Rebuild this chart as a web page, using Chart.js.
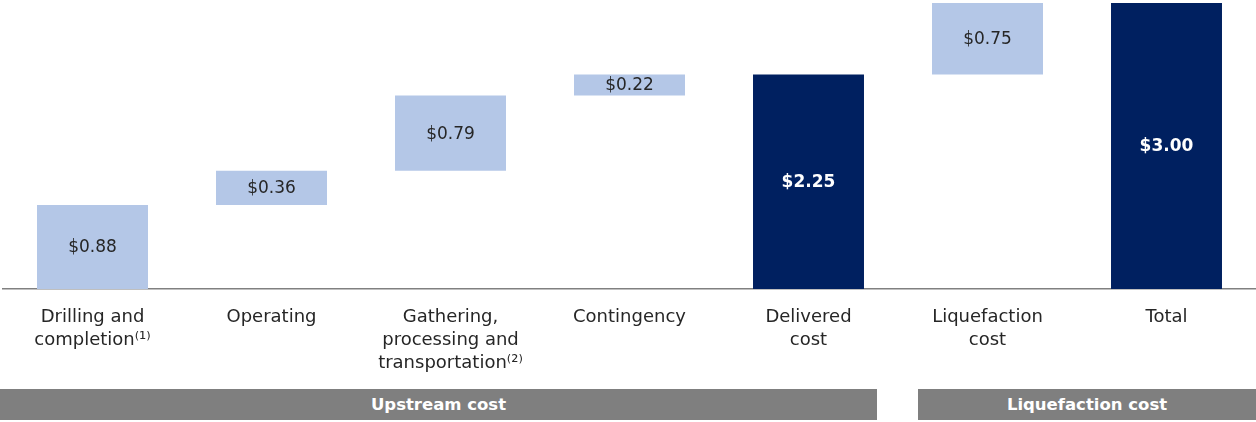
<!doctype html>
<html lang="en">
<head>
  <meta charset="UTF-8" />
  <title>Cost waterfall</title>
  <style>
    body { margin: 0; background: #fff; font-family: "DejaVu Sans", sans-serif; }
    .wrap { position: relative; width: 1256px; height: 422px; }
    .chart-box { position: absolute; left: 0; top: 0; width: 1256px; height: 385px; }
    .band { position: absolute; top: 389px; height: 31px; background: #7f7f7f; color: #fff;
            font-weight: bold; font-size: 16.5px; line-height: 31px; text-align: center; }
  </style>
</head>
<body>
  <div class="wrap">
    <div class="chart-box"><canvas id="waterfall"></canvas></div>
    <div class="band" style="left:0;width:877px;">Upstream cost</div>
    <div class="band" style="left:918px;width:338px;">Liquefaction cost</div>
  </div>

  <script src="https://cdn.jsdelivr.net/npm/chart.js"></script>
  <script>
    // categories and values
    const categories = [
      ['Drilling and', 'completion\u207D\u00B9\u207E'],
      'Operating',
      ['Gathering,', 'processing and', 'transportation\u207D\u00B2\u207E'],
      'Contingency',
      ['Delivered', 'cost'],
      ['Liquefaction', 'cost'],
      'Total'
    ];
    const barLow = [0, 0.88, 1.24, 2.03, 0, 2.25, 0];
    const barHigh = [0.88, 1.24, 2.03, 2.25, 2.25, 3.00, 3.00];
    const valueLabels = ['$0.88', '$0.36', '$0.79', '$0.22', '$2.25', '$0.75', '$3.00'];
    const isTotal = [false, false, false, false, true, false, true];

    const lightBlue = '#b4c7e7';
    const navy = '#002060';

    // writes the value inside each bar
    const barLabels = {
      id: 'barLabels',
      afterDatasetsDraw(chart) {
        const ctx = chart.ctx;
        const meta = chart.getDatasetMeta(0);
        ctx.save();
        ctx.textAlign = 'center';
        ctx.textBaseline = 'middle';
        meta.data.forEach((bar, i) => {
          const mid = (bar.y + bar.base) / 2;
          if (isTotal[i]) {
            ctx.fillStyle = '#ffffff';
            ctx.font = 'bold 17px "DejaVu Sans", sans-serif';
          } else {
            ctx.fillStyle = '#262626';
            ctx.font = '17px "DejaVu Sans", sans-serif';
          }
          ctx.fillText(valueLabels[i], bar.x, mid + 1);
        });
        ctx.restore();
      }
    };

    new Chart(document.getElementById('waterfall'), {
      type: 'bar',
      data: {
        labels: categories,
        datasets: [{
          data: barLow.map((lo, i) => [lo, barHigh[i]]),
          backgroundColor: isTotal.map((t) => (t ? navy : lightBlue)),
          borderWidth: 0,
          borderSkipped: false,
          categoryPercentage: 1,
          barPercentage: 0.62
        }]
      },
      options: {
        responsive: true,
        maintainAspectRatio: false,
        animation: false,
        layout: { padding: { top: 3, left: 3, right: 0, bottom: 0 } },
        plugins: { legend: { display: false }, tooltip: { enabled: false } },
        scales: {
          x: {
            grid: { display: false },
            border: { display: true, color: '#808080', width: 1.5 },
            ticks: {
              color: '#262626',
              padding: 9,
              maxRotation: 0,
              autoSkip: false,
              font: { family: '"DejaVu Sans", sans-serif', size: 18, lineHeight: 1.28 }
            },
            afterFit(scale) { scale.height = 96; }
          },
          y: { display: false, min: 0, max: 3 }
        }
      },
      plugins: [barLabels]
    });
  </script>
</body>
</html>
